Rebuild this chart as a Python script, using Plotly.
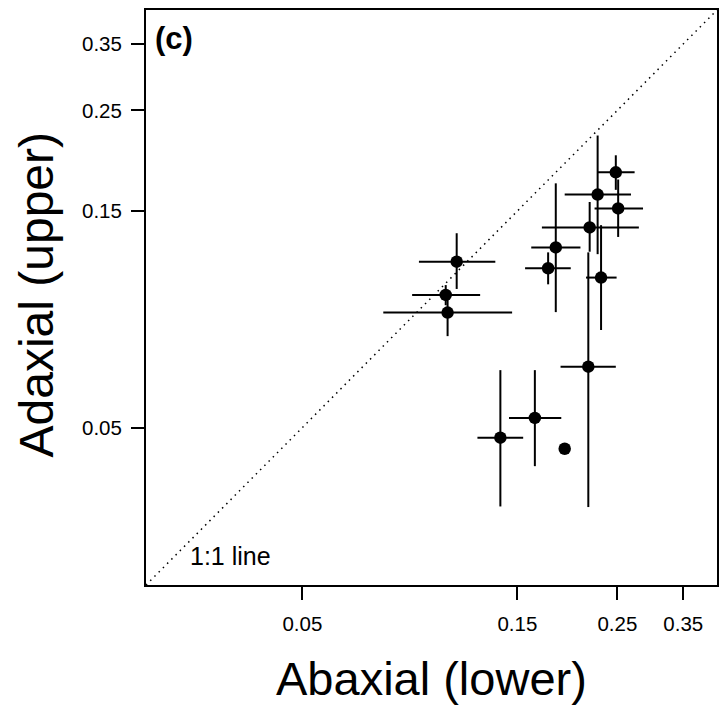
import math
import plotly.graph_objects as go

# Abaxial (lower) surface values: centre and interval bounds
abaxial = [0.110, 0.104, 0.105, 0.1825, 0.1755, 0.217, 0.226, 0.248, 0.251, 0.230, 0.2155, 0.1375, 0.164, 0.191]
abaxial_lo = [0.0907, 0.0876, 0.0756, 0.161, 0.156, 0.170, 0.191, 0.226, 0.2225, 0.213, 0.187, 0.1223, 0.1437, 0.191]
abaxial_hi = [0.134, 0.124, 0.146, 0.207, 0.197, 0.279, 0.268, 0.273, 0.285, 0.249, 0.248, 0.1545, 0.1877, 0.191]

# Adaxial (upper) surface values: centre and interval bounds
adaxial = [0.116, 0.098, 0.0896, 0.1247, 0.1122, 0.138, 0.163, 0.1825, 0.152, 0.107, 0.0681, 0.0475, 0.0525, 0.0449]
adaxial_lo = [0.101, 0.093, 0.0795, 0.0898, 0.1034, 0.122, 0.1205, 0.167, 0.1315, 0.082, 0.0334, 0.0335, 0.0411, 0.0449]
adaxial_hi = [0.134, 0.103, 0.0958, 0.1726, 0.1216, 0.157, 0.220, 0.199, 0.176, 0.1396, 0.1216, 0.0669, 0.0669, 0.0449]

tick_vals = [0.05, 0.15, 0.25, 0.35]
tick_text = ["0.05", "0.15", "0.25", "0.35"]

axis_lim = [0.02249, 0.4159]  # shared axis limits (data units)
log_range = [math.log10(axis_lim[0]), math.log10(axis_lim[1])]

FONT = "Liberation Sans, Arial, Helvetica, sans-serif"

ex_plus = [h - c for h, c in zip(abaxial_hi, abaxial)]
ex_minus = [c - l for c, l in zip(abaxial, abaxial_lo)]
ey_plus = [h - c for h, c in zip(adaxial_hi, adaxial)]
ey_minus = [c - l for c, l in zip(adaxial, adaxial_lo)]

fig = go.Figure()

# 1:1 line
fig.add_trace(go.Scatter(
    x=axis_lim, y=axis_lim, mode="lines",
    line=dict(color="black", width=1.5, dash="1.5px,4.5px"),
    hoverinfo="skip", showlegend=False,
))

fig.add_trace(go.Scatter(
    x=abaxial, y=adaxial, mode="markers",
    marker=dict(color="black", size=12.5, line=dict(width=0)),
    error_x=dict(type="data", symmetric=False, array=ex_plus, arrayminus=ex_minus,
                 color="black", thickness=2, width=0),
    error_y=dict(type="data", symmetric=False, array=ey_plus, arrayminus=ey_minus,
                 color="black", thickness=2, width=0),
    showlegend=False,
))

axis_common = dict(
    type="log", range=log_range,
    tickmode="array", tickvals=tick_vals, ticktext=tick_text,
    ticks="outside", ticklen=13, tickwidth=2, tickcolor="black",
    showline=True, linecolor="black", linewidth=2, mirror=True,
    showgrid=False, zeroline=False,
    tickfont=dict(family=FONT, size=20.5, color="black"),
)

fig.update_layout(
    width=722, height=705,
    margin=dict(l=146, r=3, t=10, b=120, pad=0),
    paper_bgcolor="white", plot_bgcolor="white",
    xaxis=dict(**axis_common, ticklabelstandoff=6),
    yaxis=dict(**axis_common, ticklabelstandoff=5),
    font=dict(family=FONT, color="black"),
    annotations=[
        dict(text="Abaxial (lower)", xref="paper", yref="paper", x=0.5, y=0,
             xanchor="center", yanchor="middle", yshift=-93, showarrow=False,
             font=dict(family=FONT, size=47, color="black")),
        dict(text="Adaxial (upper)", xref="paper", yref="paper", x=0, y=0.5,
             xanchor="center", yanchor="middle", xshift=-110, yshift=3,
             textangle=-90, showarrow=False,
             font=dict(family=FONT, size=48, color="black")),
        dict(text="<b>(c)</b>", xref="paper", yref="paper", x=0, y=1,
             xanchor="left", yanchor="middle", xshift=7, yshift=-28,
             showarrow=False, font=dict(family=FONT, size=31, color="black")),
        dict(text="1:1 line", xref="paper", yref="paper", x=0, y=0,
             xanchor="left", yanchor="middle", xshift=42, yshift=29,
             showarrow=False, font=dict(family=FONT, size=25, color="black")),
    ],
)

fig.write_html(
    "out.html",
    config={"displayModeBar": False},
    post_script="document.body.style.margin='0';document.body.style.overflow='hidden';",
)
